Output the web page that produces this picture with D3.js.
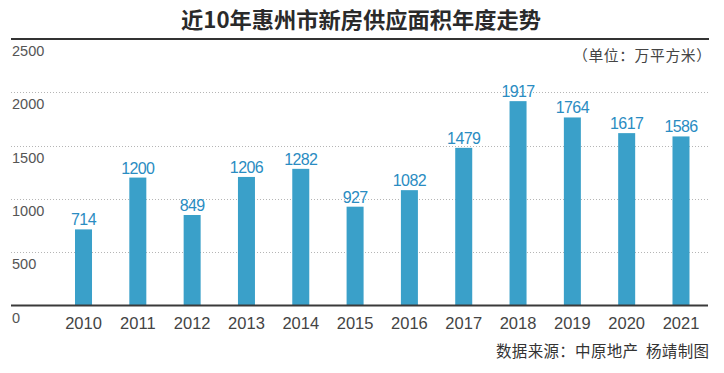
<!DOCTYPE html>
<html><head><meta charset="utf-8">
<script src="https://cdn.jsdelivr.net/npm/d3@7"></script>
<style>
html,body{margin:0;padding:0;background:#fff;}
svg{display:block;}
</style></head>
<body>
<svg id="c" width="724" height="373"></svg>
<script>
const years = ["2010","2011","2012","2013","2014","2015","2016","2017","2018","2019","2020","2021"];
const supply = [714,1200,849,1206,1282,927,1082,1479,1917,1764,1617,1586];
const yTicks = [0,500,1000,1500,2000,2500];
const titleText = "近10年惠州市新房供应面积年度走势";
const unitText = "（单位：万平方米）";
const sourceText = "数据来源：中原地产  杨靖制图";

const svg = d3.select("#c");
const numFont = "'Liberation Sans', Arial, sans-serif";
const cjkFont = "'Noto Sans CJK SC', sans-serif";
const left = 11, right = 709;

const y = d3.scaleLinear().domain([0,2500]).range([305.5,39]);
const x = d3.scaleBand().domain(years).range([56.35,708.15]).paddingInner(0.687).paddingOuter(0.3435);

// title
svg.append("text").attr("x",361).attr("y",28).attr("text-anchor","middle")
  .attr("font-family",cjkFont).attr("font-weight","bold").attr("font-size",22)
  .attr("fill","#2a2a2a").attr("textLength",360).attr("lengthAdjust","spacingAndGlyphs")
  .text(titleText);

// gridlines (dotted) for inner ticks
svg.append("g").selectAll("line").data(yTicks.filter(t=>t>0 && t<2500)).join("line")
  .attr("x1",left).attr("x2",right)
  .attr("y1",d=>Math.round(y(d))+0.5).attr("y2",d=>Math.round(y(d))+0.5)
  .attr("stroke","#b5b5b5").attr("stroke-width",1).attr("stroke-dasharray","1,2");

// top solid line (2500)
svg.append("line").attr("x1",left).attr("x2",right).attr("y1",y(2500)).attr("y2",y(2500))
  .attr("stroke","#333").attr("stroke-width",2);

// y tick labels below lines
svg.append("g").selectAll("text").data(yTicks).join("text")
  .attr("x",left+1).attr("y",d=>y(d)+17)
  .attr("font-family",numFont).attr("font-size",14.5).attr("fill","#555")
  .text(d=>d);

// unit
svg.append("text").attr("x",711).attr("y",61).attr("text-anchor","end")
  .attr("font-family",cjkFont).attr("font-size",14.8).attr("fill","#444")
  .attr("textLength",138).attr("lengthAdjust","spacing")
  .text(unitText);

// bars
svg.append("g").selectAll("rect").data(supply).join("rect")
  .attr("x",(d,i)=>x(years[i])).attr("width",x.bandwidth())
  .attr("y",d=>y(d)).attr("height",d=>y(0)-y(d))
  .attr("fill","#3aa0c9");

// value labels
svg.append("g").selectAll("text").data(supply).join("text")
  .attr("x",(d,i)=>x(years[i])+x.bandwidth()/2).attr("y",d=>y(d)-4)
  .attr("text-anchor","middle").attr("font-family",numFont).attr("font-size",16)
  .attr("letter-spacing",-0.6).attr("fill","#2a8cc2")
  .text(d=>d);

// baseline
svg.append("line").attr("x1",left).attr("x2",right-1).attr("y1",y(0)).attr("y2",y(0))
  .attr("stroke","#3a3a3a").attr("stroke-width",1.8);

// x axis labels
const xAxis = d3.axisBottom(x).tickSize(0).tickPadding(0);
const gx = svg.append("g").attr("transform",`translate(0,${y(0)})`).call(xAxis);
gx.select(".domain").remove();
gx.selectAll("text").attr("y",23).attr("dy",0)
  .attr("font-family",numFont).attr("font-size",16.5).attr("fill","#444");

// source
svg.append("text").attr("x",709).attr("y",357).attr("text-anchor","end")
  .attr("font-family",cjkFont).attr("font-size",15.5).attr("fill","#333")
  .attr("xml:space","preserve").attr("textLength",213).attr("lengthAdjust","spacing")
  .text(sourceText);
</script>
</body></html>
